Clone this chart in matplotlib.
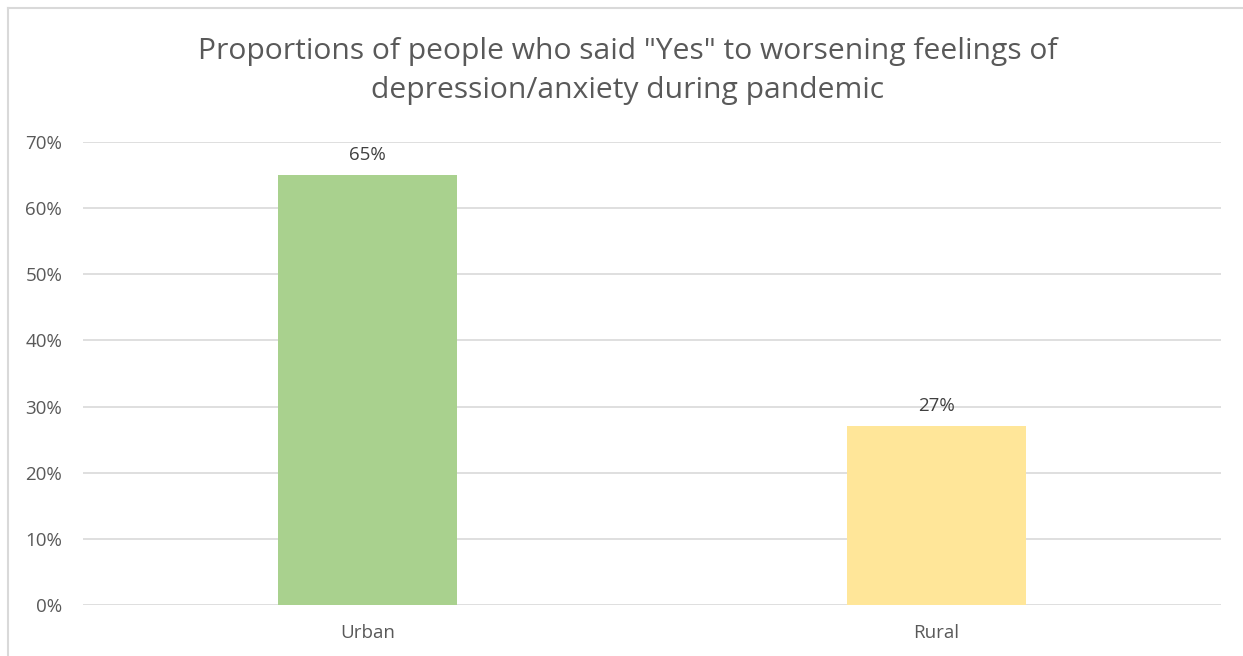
import matplotlib.pyplot as plt
from matplotlib.lines import Line2D
from matplotlib.ticker import PercentFormatter

# data
categories = ['Urban', 'Rural']
proportions = [65, 27]
bar_colors = ['#A9D18E', '#FFE699']
y_ticks = [0, 10, 20, 30, 40, 50, 60, 70]

plt.rcParams['font.family'] = ['Open Sans', 'DejaVu Sans']
text_color = '#595959'

fig = plt.figure(figsize=(12.43, 6.56), dpi=100)
ax = fig.add_axes([0.0668, 0.0777, 0.9155, 0.7058])

x = range(len(categories))
bars = ax.bar(x, proportions, width=0.313, color=bar_colors, zorder=2)

# value labels above bars
for b, v in zip(bars, proportions):
    ax.annotate(f'{v}%', (b.get_x() + b.get_width() / 2, v),
                xytext=(0, 8), textcoords='offset points',
                ha='center', va='bottom', fontsize=13.5, color='#404040')

ax.set_xlim(-0.5, 1.5)
ax.set_ylim(0, 70)
ax.set_yticks(y_ticks)
ax.yaxis.set_major_formatter(PercentFormatter(decimals=0))
ax.set_xticks(list(x))
ax.set_xticklabels(categories)
ax.grid(axis='y', color='#D9D9D9', linewidth=1.2, zorder=0)
ax.tick_params(length=0, labelsize=13.5, colors=text_color)
ax.tick_params(axis='y', pad=15)
ax.tick_params(axis='x', pad=14)
for s in ax.spines.values():
    s.set_visible(False)

fig.text(0.505, 0.892,
         'Proportions of people who said "Yes" to worsening feelings of\n'
         'depression/anxiety during pandemic',
         ha='center', va='center', fontsize=21.6, color=text_color,
         linespacing=1.45)

# chart frame (top and left edges visible)
fig.add_artist(Line2D([8 / 1243, 1], [1 - 8 / 656, 1 - 8 / 656],
                      transform=fig.transFigure, color='#D9D9D9', lw=1.5))
fig.add_artist(Line2D([8 / 1243, 8 / 1243], [0, 1 - 8 / 656],
                      transform=fig.transFigure, color='#D9D9D9', lw=1.5))

fig.savefig('out.png', dpi=100)
